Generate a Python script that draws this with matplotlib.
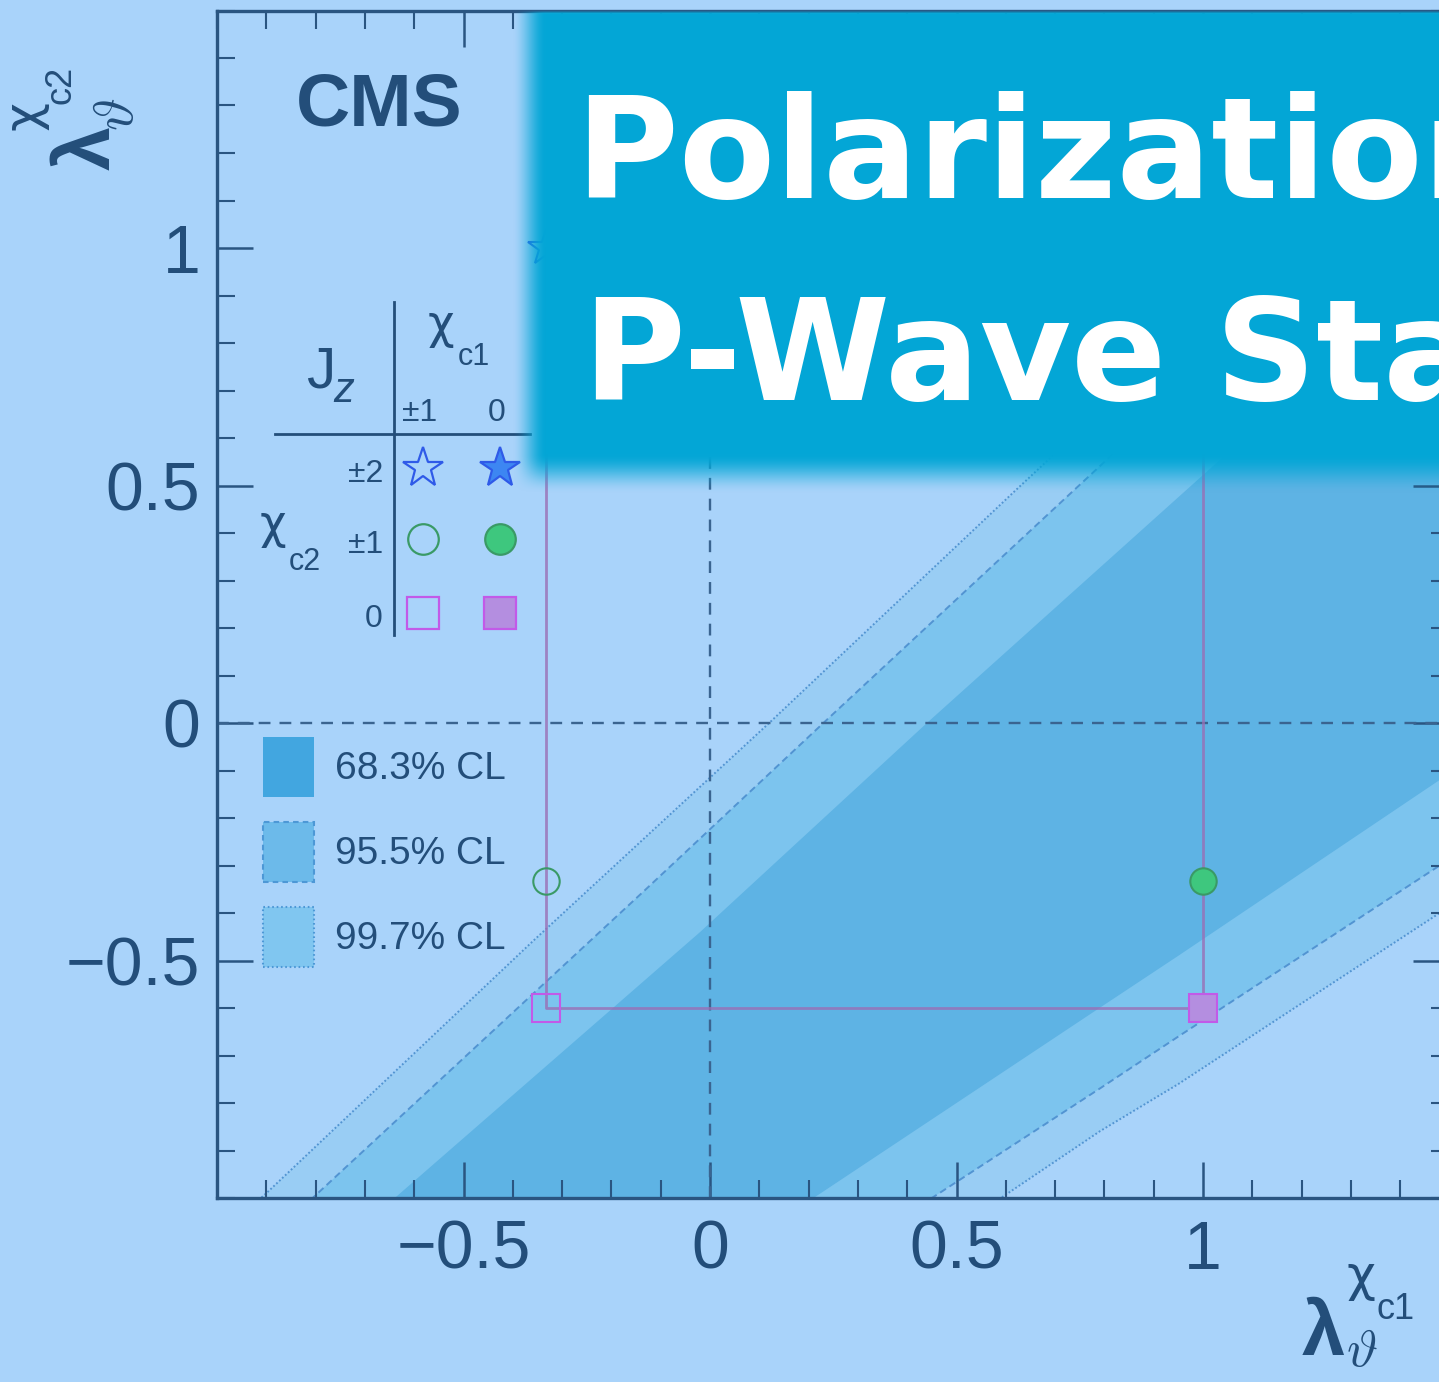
import numpy as np
import matplotlib
matplotlib.use("Agg")
import matplotlib.pyplot as plt
from matplotlib.patches import Patch
from matplotlib.transforms import Affine2D
from matplotlib.ticker import MultipleLocator

# ---------------------------------------------------------------- data
# lambda_theta of the pure angular-momentum states
lam_c1_states = [-1 / 3, 1.0]          # chi_c1 : Jz = ±1, 0
lam_c2_states = [1.0, -1 / 3, -0.6]    # chi_c2 : Jz = ±2, ±1, 0
jz_c1_labels = ["±1", "0"]
jz_c2_labels = ["±2", "±1", "0"]

# confidence-region boundaries: upper-left edge and lower-right edge
cl68_upper_x = [-0.75, -0.02, 0.44, 1.03, 1.60]
cl68_upper_y = [-1.10, -0.44, 0.00, 0.55, 1.07]
cl68_lower_x = [0.06, 0.21, 0.79, 0.95, 1.48, 1.60]
cl68_lower_y = [-1.10, -1.00, -0.60, -0.49, -0.12, -0.04]

cl955_upper_x = [-0.91, -0.13, 0.23, 0.79, 1.60]
cl955_upper_y = [-1.10, -0.35, 0.00, 0.54, 1.33]
cl955_lower_x = [0.30, 0.45, 0.79, 0.95, 1.48, 1.60]
cl955_lower_y = [-1.10, -1.00, -0.77, -0.66, -0.30, -0.22]

cl997_upper_x = [-1.02, -0.90, -0.36, 0.12, 0.62, 1.60]
cl997_upper_y = [-1.10, -0.99, -0.46, 0.00, 0.49, 1.44]
cl997_lower_x = [0.44, 0.59, 0.79, 0.95, 1.48, 1.60]
cl997_lower_y = [-1.10, -1.00, -0.86, -0.76, -0.40, -0.32]

cl_labels = ["68.3% CL", "95.5% CL", "99.7% CL"]

xticks = [-0.5, 0, 0.5, 1]
xtick_labels = ["\u22120.5", "0", "0.5", "1"]
yticks = [-0.5, 0, 0.5, 1]
ytick_labels = ["\u22120.5", "0", "0.5", "1"]

# ---------------------------------------------------------------- style
BG = "#a9d3fa"
C997 = "#99cdf4"
C955 = "#7cc4ee"
C68 = "#5eb3e4"
EDGE = "#5294d2"
TXT = "#234e7a"
SPINE = "#2a5581"
RECT = "#9a6fb5"
BANNER = "#03a6d6"
GREEK = ["DejaVu Sans"]

plt.rcParams.update({
    "font.family": ["Liberation Sans", "DejaVu Sans"],
    "lines.scale_dashes": False,
})

W, H = 1439, 1382
fig = plt.figure(figsize=(W / 100, H / 100), dpi=100, facecolor=BG)
# pixel coordinates measured from the top-left corner of the canvas
pix = Affine2D().scale(1 / W, -1 / H).translate(0, 1) + fig.transFigure


def piece(x, y, s, size, rot=0, **kw):
    """Place a text fragment with its baseline start at pixel (x, y)."""
    kw.setdefault("color", TXT)
    return fig.text(x, y, s, transform=pix, ha="left", va="baseline",
                    rotation=rot, rotation_mode="anchor", fontsize=size, **kw)


ax = fig.add_axes([217 / W, 1 - 1198 / H, (1449.5 - 217) / W, (1198 - 10.5) / H])
ax.set_facecolor(BG)
ax.set_xlim(-1, 1.5)
ax.set_ylim(-1, 1.5)

# confidence regions, widest first
bands = [
    (cl997_upper_x, cl997_upper_y, cl997_lower_x, cl997_lower_y, C997, ":"),
    (cl955_upper_x, cl955_upper_y, cl955_lower_x, cl955_lower_y, C955, "--"),
    (cl68_upper_x, cl68_upper_y, cl68_lower_x, cl68_lower_y, C68, None),
]
for ux, uy, lx, ly, fc, ls in bands:
    bx = list(ux) + list(lx)[::-1]
    by = list(uy) + list(ly)[::-1]
    if ls is None:
        ax.fill(bx, by, facecolor=fc, edgecolor="none", zorder=1)
    else:
        dash = (0, (1.3, 1.6)) if ls == ":" else (0, (5, 3))
        ax.fill(bx, by, facecolor=fc, edgecolor=EDGE, linestyle=dash,
                linewidth=1.4, zorder=1)

# reference lines through the origin
ax.axhline(0, color="#3a6490", lw=1.7, dashes=(8.5, 6.5), zorder=2)
ax.axvline(0, color="#3a6490", lw=1.7, dashes=(8.5, 6.5), zorder=2)

# rectangle joining the pure states
c1, c2 = lam_c1_states, lam_c2_states
ax.plot([c1[0], c1[0], c1[1], c1[1], c1[0]],
        [c2[0], c2[2], c2[2], c2[0], c2[0]],
        color=RECT, lw=2.0, alpha=0.8, zorder=3)

marker_styles = [("*", "#2f5ae8", "#3d86f2"),
                 ("o", "#3a9a66", "#3ec77e"),
                 ("s", "#c25ae8", "#b48ee0")]
plot_sizes = [27, 19, 20]
for i, x in enumerate(lam_c1_states):
    for j, y in enumerate(lam_c2_states):
        m, ec, fc = marker_styles[j]
        ax.plot([x], [y], marker=m, ms=plot_sizes[j], mec=ec,
                mfc=(fc if i == 1 else "none"), mew=1.5, ls="none",
                zorder=4, clip_on=False)

# axes, ticks and tick labels
for s in ax.spines.values():
    s.set_color(SPINE)
    s.set_linewidth(2.4)
ax.set_xticks(xticks, labels=xtick_labels)
ax.set_yticks(yticks, labels=ytick_labels)
ax.xaxis.set_minor_locator(MultipleLocator(0.1))
ax.yaxis.set_minor_locator(MultipleLocator(0.1))
ax.tick_params(which="both", direction="in", top=True, right=True,
               color=SPINE, labelcolor=TXT, labelsize=49)
ax.tick_params(which="major", length=26, width=1.8)
ax.tick_params(which="minor", length=13, width=1.5)
ax.tick_params(axis="x", pad=15)
ax.tick_params(axis="y", pad=12)

# axis titles: bold lambda, vartheta subscript, chi_cJ superscript
piece(1302, 1355, "\u03bb", 56, fontweight="bold")
piece(1346, 1366, r"$\vartheta$", 38, math_fontfamily="cm")
piece(1346, 1291, "\u03c7", 36, family=GREEK)
piece(1377, 1319, "c1", 26)

piece(110, 170, "\u03bb", 57, rot=90, fontweight="bold")
piece(133, 131, r"$\vartheta$", 40, rot=90, math_fontfamily="cm")
piece(38, 130, "\u03c7", 36, rot=90, family=GREEK)
piece(71, 104, "c2", 26, rot=90)

piece(296, 125, "CMS", 54, fontweight="bold")

# Jz table of the pure states
ax.plot([394, 394], [302, 635], transform=pix, color=TXT, lw=2.0,
        clip_on=False, zorder=5)
ax.plot([275, 530], [434, 434], transform=pix, color=TXT, lw=2.0,
        clip_on=False, zorder=5)
piece(306, 387, "J", 42)
piece(333, 402, "z", 30, fontstyle="italic")
piece(428, 338, "\u03c7", 33, family=GREEK)
piece(458, 365, "c1", 22)
piece(260, 538, "\u03c7", 33, family=GREEK)
piece(289, 570, "c2", 22)

col_x = [423, 500]
row_y = [468, 539, 613]
for lbl, x in zip(jz_c1_labels, col_x):
    fig.text(x - 3, 421, lbl, transform=pix, ha="center", va="baseline",
             fontsize=23, color=TXT)
for lbl, y in zip(jz_c2_labels, row_y):
    fig.text(383, y + 14, lbl, transform=pix, ha="right", va="baseline",
             fontsize=23, color=TXT)
table_sizes = [30, 22, 23]
for i, x in enumerate(col_x):
    for j, y in enumerate(row_y):
        m, ec, fc = marker_styles[j]
        ax.plot([x], [y], marker=m, ms=table_sizes[j], mec=ec,
                mfc=(fc if i == 1 else "none"), mew=1.6, ls="none",
                transform=pix, clip_on=False, zorder=5)

# confidence-level legend
handles = [Patch(facecolor="#42a6e0", edgecolor="#42a6e0", lw=0),
           Patch(facecolor="#6cbaea", edgecolor="#4d98d6", ls=(0, (4, 3)), lw=1.5),
           Patch(facecolor="#80c6f0", edgecolor="#4d98d6", ls=(0, (1.2, 2)), lw=1.5)]
ax.legend(handles, cl_labels, loc="upper left", bbox_to_anchor=(263, 737),
          bbox_transform=pix, frameon=False, prop={"size": 28},
          labelcolor=TXT, handlelength=1.31, handleheight=2.0,
          labelspacing=0.64, handletextpad=0.55, borderpad=0,
          borderaxespad=0)

# title banner with a soft edge
bx0, bx1, by0, by1 = 470, W, 0, 520
ov = fig.add_axes([bx0 / W, 1 - by1 / H, (bx1 - bx0) / W, (by1 - by0) / H],
                  zorder=10)
ov.axis("off")
xs = np.arange(bx0, bx1) + 0.5
ys = np.arange(by0, by1) + 0.5
X, Y = np.meshgrid(xs, ys)


def ramp(t):
    t = np.clip(t, 0, 1)
    return t * t * (3 - 2 * t)


alpha = ramp((X - 512) / 34) * ramp((494 - Y) / 40) * ramp((Y - 10) / 4)
rgba = np.zeros(X.shape + (4,))
rgba[..., :3] = matplotlib.colors.to_rgb(BANNER)
rgba[..., 3] = alpha
ov.imshow(rgba, extent=(bx0, bx1, by1, by0), aspect="auto",
          interpolation="bilinear")
ov.set_xlim(bx0, bx1)
ov.set_ylim(by1, by0)

fig.text(576, 198, "Polarization of", transform=pix, ha="left",
         va="baseline", fontsize=101, fontweight="bold", color="white",
         family="DejaVu Sans", zorder=11)
fig.text(583, 400, "P-Wave States", transform=pix, ha="left",
         va="baseline", fontsize=101, fontweight="bold", color="white",
         family="DejaVu Sans", zorder=11)

fig.savefig("out.png", dpi=100, facecolor=BG)
